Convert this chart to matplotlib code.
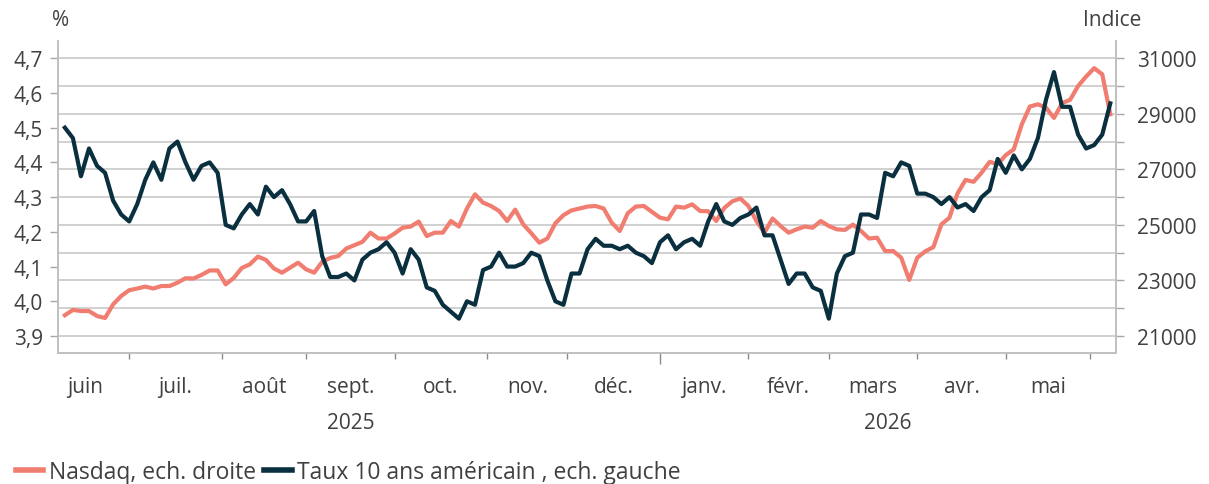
import numpy as np
import pandas as pd
import matplotlib
matplotlib.use('Agg')
import matplotlib.pyplot as plt
import matplotlib.transforms as mtransforms
from matplotlib.ticker import FixedLocator, FuncFormatter

plt.rcParams['font.family'] = ['Open Sans', 'DejaVu Sans']
plt.rcParams['font.size'] = 14

# trading days, one value every second business day
days = pd.bdate_range('2025-06-09', '2026-06-08')
dates = days[::2]

taux_10y = [4.50, 4.47, 4.36, 4.44, 4.39, 4.37, 4.29, 4.25, 4.23, 4.28,
            4.35, 4.40, 4.35, 4.44, 4.46, 4.40, 4.35, 4.39, 4.40, 4.37,
            4.22, 4.21, 4.25, 4.28, 4.25, 4.33, 4.30, 4.32, 4.28, 4.23,
            4.23, 4.26, 4.13, 4.07, 4.07, 4.08, 4.06, 4.12, 4.14, 4.15,
            4.17, 4.14, 4.08, 4.15, 4.12, 4.04, 4.03, 3.99, 3.97, 3.95,
            4.00, 3.99, 4.09, 4.10, 4.14, 4.10, 4.10, 4.11, 4.14, 4.13,
            4.06, 4.00, 3.99, 4.08, 4.08, 4.15, 4.18, 4.16, 4.16, 4.15,
            4.16, 4.14, 4.13, 4.11, 4.17, 4.19, 4.15, 4.17, 4.18, 4.16,
            4.23, 4.28, 4.23, 4.22, 4.24, 4.25, 4.27, 4.19, 4.19, 4.12,
            4.05, 4.08, 4.08, 4.04, 4.03, 3.95, 4.08, 4.13, 4.14, 4.25,
            4.25, 4.24, 4.37, 4.36, 4.40, 4.39, 4.31, 4.31, 4.30, 4.28,
            4.30, 4.27, 4.28, 4.26, 4.30, 4.32, 4.41, 4.37, 4.42, 4.38,
            4.41, 4.47, 4.58, 4.66, 4.56, 4.56, 4.48, 4.44, 4.45, 4.48,
            4.57]

nasdaq = [21750, 21940, 21900, 21900, 21720, 21650, 22140, 22440, 22650, 22710,
          22780, 22710, 22800, 22800, 22920, 23080, 23070, 23200, 23360, 23360,
          22860, 23090, 23450, 23580, 23860, 23740, 23430, 23280, 23460, 23640,
          23400, 23280, 23670, 23810, 23880, 24150, 24270, 24390, 24720, 24510,
          24510, 24690, 24900, 24940, 25120, 24600, 24720, 24720, 25140, 24940,
          25590, 26100, 25800, 25680, 25500, 25140, 25550, 25020, 24700, 24360,
          24510, 25060, 25350, 25520, 25590, 25660, 25680, 25590, 25080, 24780,
          25420, 25660, 25680, 25470, 25260, 25200, 25660, 25620, 25740, 25500,
          25490, 25140, 25610, 25850, 25950, 25680, 25140, 24720, 25230, 24960,
          24720, 24840, 24940, 24900, 25140, 24960, 24840, 24820, 25010, 24780,
          24510, 24540, 24060, 24060, 23820, 23020, 23820, 24050, 24200, 25020,
          25260, 26130, 26620, 26550, 26880, 27270, 27180, 27510, 27720, 28620,
          29260, 29340, 29220, 28850, 29380, 29500, 30000, 30340, 30640, 30420,
          28980]

month_labels = ['juin', 'juil.', 'août', 'sept.', 'oct.', 'nov.', 'déc.',
                'janv.', 'févr.', 'mars', 'avr.', 'mai']
month_starts = pd.date_range('2025-06-01', '2026-06-01', freq='MS')
years = ['2025', '2026']

navy = '#0A2F3F'
salmon = '#F07D70'
grey_txt = '#404040'
grey_line = '#C8C8C8'

# x positions in business days from the first date
d0 = days[0].date()
x = np.array([np.busday_count(d0, d.date()) for d in dates])
m_idx = np.array([np.busday_count(d0, m.date()) for m in month_starts])

fig = plt.figure(figsize=(12.09, 4.85), dpi=100)
ax = fig.add_axes([0.048, 0.270, 0.875, 0.643])
ax2 = ax.twinx()

ax2.plot(x, nasdaq, color=salmon, lw=3.0, zorder=3)
ax.plot(x, taux_10y, color=navy, lw=3.0, zorder=4)
ax.set_zorder(ax2.get_zorder() + 1)
ax.patch.set_visible(False)

xmin, xmax = -1.7, 261.4
ax.set_xlim(xmin, xmax)
ax.set_ylim(3.851, 4.749)
ax2.set_ylim(20388, 31611)

# right axis: grid every 1000, label every 2000
ax2.yaxis.set_major_locator(FixedLocator(np.arange(21000, 31001, 2000)))
ax2.yaxis.set_minor_locator(FixedLocator(np.arange(22000, 31000, 2000)))
ax2.grid(True, which='both', axis='y', color=grey_line, lw=1.2)
ax2.tick_params(axis='y', which='both', length=6, width=1, color='#A8A8A8',
                labelcolor=grey_txt, labelsize=15, pad=9)
ax2.set_axisbelow(True)

ax.set_yticks(np.arange(3.9, 4.71, 0.1))
ax.yaxis.set_major_formatter(FuncFormatter(lambda v, p: f'{v:.1f}'.replace('.', ',')))
ax.tick_params(axis='y', length=6, width=1, color='#A8A8A8', labelcolor=grey_txt,
               labelsize=15, pad=5)

# month ticks, longer tick at the year change
jan = m_idx[7]
inner = [m for m in m_idx[1:] if m != jan]
ax.set_xticks([jan])
ax.set_xticks(inner, minor=True)
ax.set_xticklabels([])
ax.tick_params(axis='x', which='major', length=8, width=1, color='#8A8A8A')
ax.tick_params(axis='x', which='minor', length=4, width=1, color='#8A8A8A')

trans = mtransforms.blended_transform_factory(ax.transData, ax.transAxes)
for i, lab in enumerate(month_labels):
    xm = (m_idx[i] + m_idx[i + 1]) / 2
    ax.text(xm, -0.107, lab, transform=trans, ha='center', va='center',
            color=grey_txt, fontsize=15)
ax.text((m_idx[0] + jan) / 2, -0.222, years[0], transform=trans, ha='center',
        va='center', color=grey_txt, fontsize=15)
ax.text((jan + xmax) / 2, -0.222, years[1], transform=trans, ha='center',
        va='center', color=grey_txt, fontsize=15)

for a in (ax, ax2):
    a.spines['top'].set_visible(False)
    for s in ('left', 'right', 'bottom'):
        a.spines[s].set_color('#C0C0C0')
        a.spines[s].set_linewidth(1.2)

fig.text(0.043, 0.958, '%', ha='left', va='center', color=grey_txt, fontsize=15)
fig.text(0.896, 0.958, 'Indice', ha='left', va='center', color=grey_txt, fontsize=15)

h1, = ax.plot([], [], color=salmon, lw=4)
h2, = ax.plot([], [], color=navy, lw=4)
fig.legend([h1, h2], ['Nasdaq, ech. droite', 'Taux 10 ans américain , ech. gauche'],
           loc='lower left', bbox_to_anchor=(-0.004, -0.042), ncol=2, frameon=False,
           handlelength=1.2, handletextpad=0.25, columnspacing=0.35,
           fontsize=16.5, labelcolor=grey_txt)

fig.savefig('out.png', dpi=100)
